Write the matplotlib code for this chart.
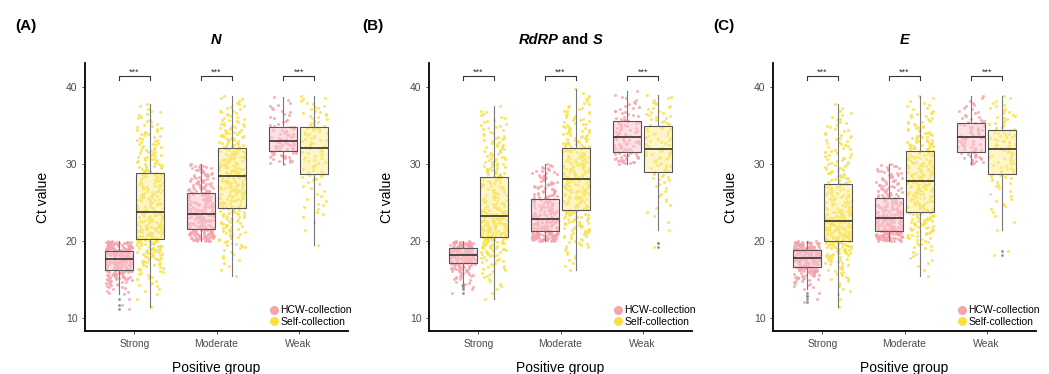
import numpy as np
import matplotlib.pyplot as plt
from matplotlib.lines import Line2D
from matplotlib.offsetbox import TextArea, HPacker, AnchoredOffsetbox

plt.rcParams['font.family'] = ['Liberation Sans', 'DejaVu Sans']

groups = ['Strong', 'Moderate', 'Weak']
series = ['HCW-collection', 'Self-collection']
panel_labels = ['(A)', '(B)', '(C)']
# gene titles: (text, italic) pieces
panel_titles = [[('N', True)],
                [('RdRP', True), (' and ', False), ('S', True)],
                [('E', True)]]

# number of samples per 1-Ct bin, bins start at *_start for each positive group
n_hcw_start = [11, 20, 30]
n_hcw_counts = [[2, 1, 6, 14, 30, 40, 55, 60, 50],
                [42, 38, 33, 28, 24, 20, 19, 18, 16, 15],
                [10, 15, 16, 12, 10, 6, 5, 5, 2]]
n_self_start = [11, 15, 19]
n_self_counts = [[1, 1, 3, 4, 6, 10, 12, 16, 20, 24, 24, 22, 22, 18, 16, 15, 14, 14,
                  13, 12, 11, 10, 9, 8, 6, 5, 3],
                 [1, 2, 3, 4, 8, 10, 11, 12, 14, 14, 16, 17, 18, 19, 19, 19, 18, 16,
                  14, 12, 10, 8, 6, 4],
                 [1, 0, 1, 1, 3, 4, 3, 3, 4, 8, 6, 7, 8, 9, 9, 9, 7, 7, 6, 4]]

rs_hcw_start = [13, 20, 30]
rs_hcw_counts = [[2, 6, 12, 22, 45, 60, 55],
                 [48, 40, 32, 25, 20, 17, 15, 13, 12, 10],
                 [17, 14, 12, 12, 12, 11, 8, 6, 5, 1]]
rs_self_start = [12, 16, 19]
rs_self_counts = [[1, 2, 3, 5, 7, 9, 15, 20, 28, 30, 28, 24, 16, 14, 13, 13, 13, 12,
                   11, 10, 9, 8, 7, 6, 5, 1],
                  [2, 3, 4, 7, 9, 13, 14, 16, 15, 16, 17, 18, 18, 18, 17, 16, 15, 13,
                   11, 10, 8, 6, 4, 2],
                  [2, 0, 1, 1, 2, 2, 3, 3, 4, 8, 8, 9, 10, 8, 8, 9, 8, 7, 6, 5]]

e_hcw_start = [12, 20, 30]
e_hcw_counts = [[3, 2, 8, 20, 34, 48, 55, 48],
                [46, 40, 33, 27, 22, 19, 16, 14, 12, 11],
                [13, 11, 10, 11, 10, 9, 6, 5, 3]]
e_self_start = [11, 15, 18]
e_self_counts = [[1, 1, 3, 4, 6, 8, 11, 18, 24, 30, 32, 28, 24, 15, 13, 12, 12, 11,
                  10, 9, 9, 8, 7, 6, 5, 4, 2],
                 [1, 2, 3, 4, 7, 10, 14, 15, 16, 16, 17, 18, 18, 19, 18, 17, 16, 16,
                  14, 10, 9, 7, 5, 3],
                 [2, 0, 0, 1, 1, 2, 3, 3, 3, 5, 8, 7, 8, 9, 10, 10, 9, 7, 6, 5, 3]]

panels = [(n_hcw_start, n_hcw_counts, n_self_start, n_self_counts),
          (rs_hcw_start, rs_hcw_counts, rs_self_start, rs_self_counts),
          (e_hcw_start, e_hcw_counts, e_self_start, e_self_counts)]

hcw_color = '#F4A3AD'
self_color = '#F8E243'
box_fill = {'hcw': (0.98, 0.78, 0.81, 0.55), 'self': (0.99, 0.93, 0.55, 0.45)}


def expand(start, counts, shift):
    """Ct values from the bin counts, plus a horizontal strip offset for each point."""
    ys = []
    for i, c in enumerate(counts):
        ys.extend(start + i + (np.arange(c) + 0.5) / c)
    ys = np.array(ys)
    k = np.arange(len(ys)) + shift
    h = np.mod(np.sin(k * 12.9898 + shift * 78.233) * 43758.5453, 1.0)
    return ys, (h - 0.5) * 0.32


fig = plt.figure(figsize=(10.49, 3.74), dpi=100)
axes_left = [85, 429, 773]
ax_w = 263 / 1049
ax_b = 43 / 374
ax_h = 268 / 374

for p, (hs, hc, ss, sc) in enumerate(panels):
    ax = fig.add_axes([axes_left[p] / 1049, ax_b, ax_w, ax_h])
    for g in range(3):
        for start, counts, off, col, key, sh in [(hs[g], hc[g], -0.19, hcw_color, 'hcw', 3),
                                                 (ss[g], sc[g], 0.19, self_color, 'self', 17)]:
            vals, dx = expand(start, counts, sh + g * 7 + p * 13)
            ax.scatter(g + off + dx, vals, s=5, color=col, alpha=0.8, linewidths=0, zorder=1)
            bp = ax.boxplot([vals], positions=[g + off], widths=0.34, patch_artist=True,
                            showcaps=False, manage_ticks=False,
                            boxprops=dict(facecolor=box_fill[key], edgecolor='#555555', linewidth=0.8),
                            medianprops=dict(color='#333333', linewidth=1.2),
                            whiskerprops=dict(color='#777777', linewidth=0.8),
                            flierprops=dict(marker='o', markersize=2, markerfacecolor='#777777',
                                            markeredgecolor='none', alpha=0.8))
            for b in bp['boxes']:
                b.set_zorder(2)
        # significance bracket
        x0, x1 = g - 0.19, g + 0.19
        ax.plot([x0, x0, x1, x1], [40.85, 41.4, 41.4, 40.85], color='#333333', lw=0.8,
                zorder=3)
        ax.text(g, 41.95, '***', ha='center', va='center', fontsize=6.5, color='#333333')

    ax.set_xlim(-0.6, 2.6)
    ax.set_ylim(8.35, 43.1)
    ax.set_xticks(range(3))
    ax.set_xticklabels(groups)
    ax.set_yticks([10, 20, 30, 40])
    ax.tick_params(axis='both', labelsize=7.5, labelcolor='#4D4D4D', color='#333333',
                   length=2.5, width=0.6, pad=3)
    for sp in ['top', 'right']:
        ax.spines[sp].set_visible(False)
    for sp in ['left', 'bottom']:
        ax.spines[sp].set_linewidth(1.3)
        ax.spines[sp].set_color('black')
    ax.set_ylabel('Ct value', fontsize=10, labelpad=11)
    ax.set_xlabel('Positive group', fontsize=10, labelpad=9)

    handles = [Line2D([], [], marker='o', ls='none', markersize=6.5, color=hcw_color,
                      markeredgecolor='none'),
               Line2D([], [], marker='o', ls='none', markersize=6.5, color=self_color,
                      markeredgecolor='none')]
    ax.legend(handles, series, loc='lower right', bbox_to_anchor=(1.03, 0.0), frameon=False,
              fontsize=7.5, handletextpad=0.1, labelspacing=0.15, handlelength=1.0,
              borderpad=0.2, borderaxespad=0.2)

    pieces = [TextArea(t, textprops=dict(fontsize=10.5, fontweight='bold',
                                         style='italic' if it else 'normal'))
              for t, it in panel_titles[p]]
    title_box = AnchoredOffsetbox(loc='lower center', child=HPacker(children=pieces, sep=0, pad=0),
                                  bbox_to_anchor=(0.5, 1.06), bbox_transform=ax.transAxes,
                                  frameon=False, pad=0, borderpad=0)
    ax.add_artist(title_box)

    fig.text([15, 362, 713][p] / 1049, 1 - 26 / 374, panel_labels[p], fontsize=11,
             fontweight='bold', ha='left', va='center')

fig.savefig('out.png', dpi=100)
